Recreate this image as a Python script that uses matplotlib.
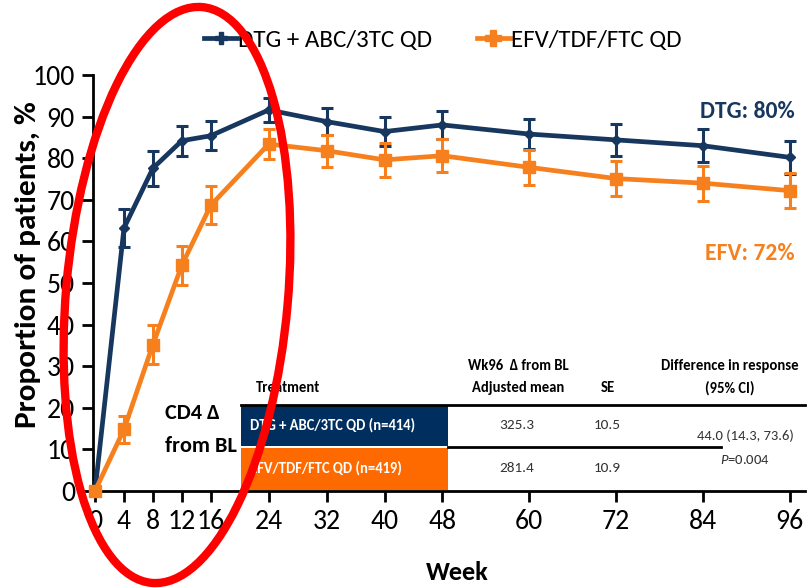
import matplotlib.pyplot as plt
from matplotlib.patches import Ellipse, Rectangle
from matplotlib.lines import Line2D
from matplotlib.transforms import IdentityTransform

# data
weeks = [0, 4, 8, 12, 16, 24, 32, 40, 48, 60, 72, 84, 96]
dtg = [0, 63.2, 77.6, 84.2, 85.4, 91.6, 88.8, 86.4, 88.0, 85.8, 84.4, 83.0, 80.2]
dtg_err = [0, 4.6, 4.2, 3.6, 3.5, 2.9, 3.2, 3.5, 3.3, 3.6, 3.8, 3.9, 4.0]
efv = [0, 14.8, 35.2, 54.3, 68.7, 83.4, 81.8, 79.6, 80.6, 77.8, 75.1, 74.0, 72.2]
efv_err = [0, 3.3, 4.6, 4.7, 4.5, 3.6, 3.8, 4.0, 4.0, 4.2, 4.2, 4.2, 4.2]
series_names = ['DTG + ABC/3TC QD', 'EFV/TDF/FTC QD']
end_labels = ['DTG: 80%', 'EFV: 72%']

tbl_header = ['Treatment', 'Wk96  \u0394 from BL\nAdjusted mean', 'SE',
              'Difference in response\n(95% CI)']
tbl_rows = ['DTG + ABC/3TC QD (n=414)', 'EFV/TDF/FTC QD (n=419)']
tbl_mean = ['325.3', '281.4']
tbl_se = ['10.5', '10.9']
tbl_diff = '44.0 (14.3, 73.6)'
tbl_p = '$\\it{P}$=0.004'

NAVY = '#17375e'
ORANGE = '#f7801e'
CELL_NAVY = '#002f5f'
CELL_ORANGE = '#ff6a00'

plt.rcParams['font.family'] = ['Carlito', 'Roboto Condensed', 'Open Sans Condensed',
                               'DejaVu Sans']
plt.rcParams['mathtext.fontset'] = 'custom'
plt.rcParams['mathtext.it'] = 'Carlito:italic'
plt.rcParams['mathtext.rm'] = 'Carlito'

W, H = 812, 588
fig = plt.figure(figsize=(W / 100, H / 100), dpi=100)


def px(x, y):
    return x / W, 1 - y / H


ax = fig.add_axes([93 / W, 1 - 491 / H, (805 - 93) / W, (491 - 75) / H])

ax.errorbar(weeks, dtg, yerr=dtg_err, color=NAVY, lw=3.4, marker='D', ms=5,
            elinewidth=2.2, capsize=4, capthick=2.2, zorder=3, clip_on=False)
ax.errorbar(weeks, efv, yerr=efv_err, color=ORANGE, lw=3.4, marker='s', ms=8,
            elinewidth=2.2, capsize=4, capthick=2.2, zorder=4, clip_on=False)

ax.set_xlim(-0.28, 98.1)
ax.set_ylim(0, 100)
ax.set_xticks(weeks)
ax.set_yticks(range(0, 101, 10))
ax.tick_params(axis='both', length=8, width=2, direction='out', labelsize=20, pad=5)
for s in ['top', 'right']:
    ax.spines[s].set_visible(False)
for s in ['left', 'bottom']:
    ax.spines[s].set_linewidth(2)

# axis titles placed as figure text
fig.text(*px(457, 572), 'Week', fontsize=19, fontweight='bold', ha='center', va='center')
fig.text(*px(28, 265), 'Proportion of patients, %', fontsize=22.5, fontweight='bold',
         ha='center', va='center', rotation=90)

handles = [Line2D([], [], color=NAVY, lw=3.4, marker='P', ms=8),
           Line2D([], [], color=ORANGE, lw=3.4, marker='P', ms=11)]
fig.legend(handles, series_names, loc='center', bbox_to_anchor=px(443, 40),
           ncol=2, frameon=False, fontsize=18, handlelength=1.3, handletextpad=0.05,
           columnspacing=1.8)

fig.text(*px(795, 112), end_labels[0], color=NAVY, fontsize=17, fontweight='bold',
         ha='right', va='center')
fig.text(*px(795, 253), end_labels[1], color=ORANGE, fontsize=17, fontweight='bold',
         ha='right', va='center')

# CD4 table
fig.text(*px(165, 413), 'CD4 \u0394', fontsize=16, fontweight='bold', va='center')
fig.text(*px(165, 446), 'from BL', fontsize=16, fontweight='bold', va='center')

fig.text(*px(256, 388), tbl_header[0], fontsize=10.5, fontweight='bold', va='center')
fig.text(*px(518, 377), tbl_header[1], fontsize=10.5, fontweight='bold', va='center',
         ha='center', linespacing=1.7)
fig.text(*px(608, 388), tbl_header[2], fontsize=10.5, fontweight='bold', va='center',
         ha='center')
fig.text(*px(730, 377), tbl_header[3], fontsize=10.5, fontweight='bold', va='center',
         ha='center', linespacing=1.7)

fig.add_artist(Line2D([241 / W, 805 / W], [1 - 405 / H] * 2, color='black', lw=2))
fig.add_artist(Line2D([448 / W, 721 / W], [1 - 447 / H] * 2, color='black', lw=2))
x0, y0 = px(241, 446)
fig.add_artist(Rectangle((x0, y0), 207 / W, 41 / H, transform=fig.transFigure,
                         color=CELL_NAVY, lw=0))
x0, y0 = px(241, 490)
fig.add_artist(Rectangle((x0, y0), 207 / W, 42 / H, transform=fig.transFigure,
                         color=CELL_ORANGE, lw=0))

for i, yy in enumerate([425, 468]):
    fig.text(*px(250, yy), tbl_rows[i], fontsize=10.5, fontweight='bold', color='white',
             va='center')
    fig.text(*px(517, yy), tbl_mean[i], fontsize=11, color='#333333', va='center',
             ha='center')
    fig.text(*px(607, yy), tbl_se[i], fontsize=11, color='#333333', va='center',
             ha='center')
fig.text(*px(745, 436), tbl_diff, fontsize=10.5, color='#333333', va='center', ha='center')
fig.text(*px(745, 459), tbl_p, fontsize=10.5, color='#333333', va='center', ha='center')

# red highlight ellipse (pixel coordinates)
fig.add_artist(Ellipse((177, H - 295), 222, 578, angle=-5, transform=IdentityTransform(),
                       fill=False, ec='#ff0000', lw=6, zorder=10, clip_on=False))

fig.savefig('out.png', dpi=100)
